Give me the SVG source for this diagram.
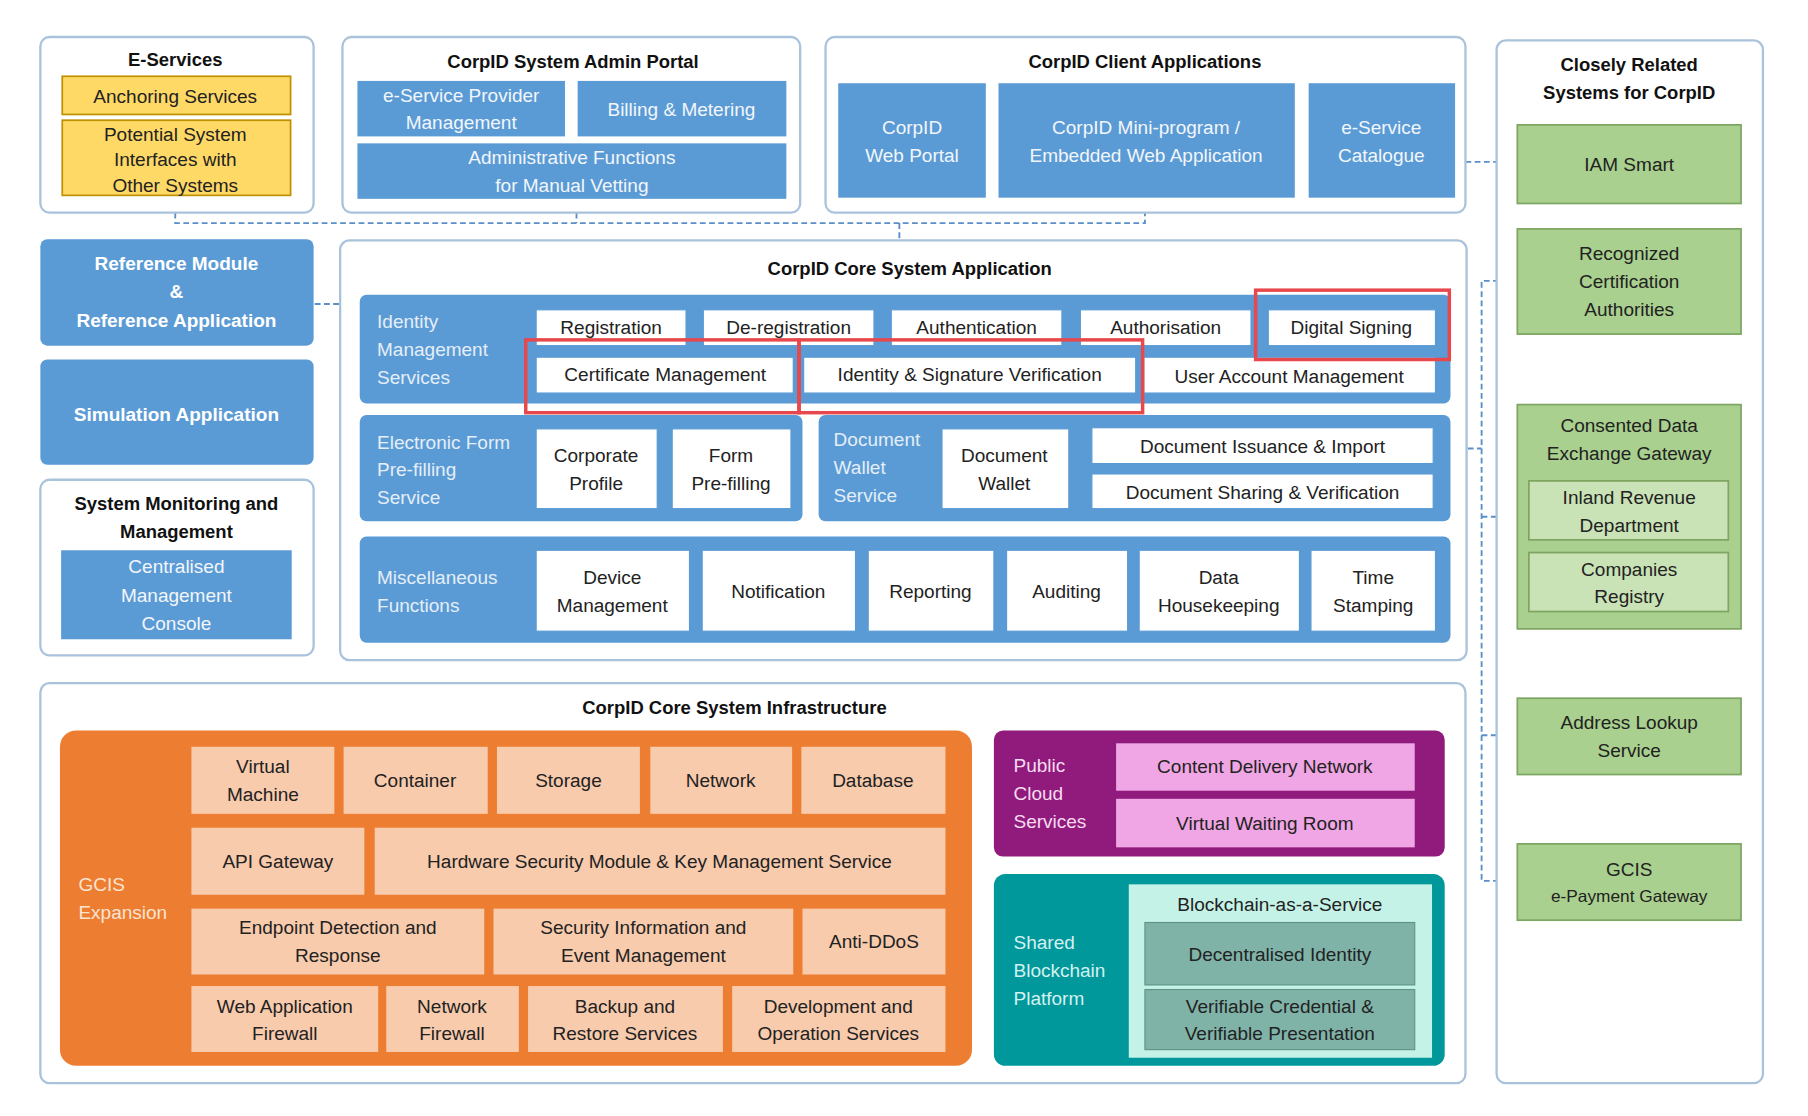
<svg xmlns="http://www.w3.org/2000/svg" width="1808" height="1116" viewBox="0 0 1808 1116">
<style>
text{font-family:"Liberation Sans",Arial,sans-serif;font-size:16.5px;text-anchor:middle;fill:#222}
.t{font-weight:bold;font-size:16px;fill:#111}
.lw{fill:#e4eef8;text-anchor:start}
.w{fill:#f2f6fb}
.wb{fill:#fff;font-weight:bold}
.cont{fill:#fff;stroke:#a9c3dc;stroke-width:2}
.blue{fill:#5b9bd5}
.bandb{fill:#5b9bd5}
.wbox{fill:#fff;stroke:#5b9bd5}
.yel{fill:#ffd966;stroke:#bf9000;stroke-width:1.5}
.grn{fill:#a9d08e;stroke:#7ea561;stroke-width:1.5}
.grn2{fill:#c9e3b6;stroke:#7ea561;stroke-width:1.5}
.or{fill:#f8cbad}
.pk{fill:#f0a6e4}
.red{fill:none;stroke:#e8474c;stroke-width:3}
.dash{fill:none;stroke:#5b8fc9;stroke-width:1.6;stroke-dasharray:5,3}
</style>
<rect width="1808" height="1116" fill="#fff"/>
<g transform="scale(1.153,1.156)">
<g id="connectors">
<path class="dash" d="M152,184 V193 H993 V184 M500,184 V193 M780,193 V208"/>
<path class="dash" d="M273,263 H295"/>
<path class="dash" d="M1271,140 H1316"/>
<path class="dash" d="M1316,243 H1285 V762 H1316 M1285,447 H1316 M1285,636 H1316 M1273,388 H1285"/>
</g>
<g id="eservices">
<rect class="cont" x="35" y="32" width="237" height="152" rx="8"/>
<text class="t" x="152" y="57">E-Services</text>
<rect class="yel" x="54" y="66" width="198" height="33"/>
<text x="152" y="89">Anchoring Services</text>
<rect class="yel" x="54" y="104" width="198" height="65"/>
<text x="152" y="122">Potential System</text><text x="152" y="144">Interfaces with</text><text x="152" y="166">Other Systems</text>
</g>
<g id="adminportal">
<rect class="cont" x="297" y="32" width="397" height="152" rx="8"/>
<text class="t" x="497" y="59">CorpID System Admin Portal</text>
<rect class="blue" x="310" y="70" width="180" height="48"/>
<text class="w" x="400" y="88">e-Service Provider</text><text class="w" x="400" y="112">Management</text>
<rect class="blue" x="501" y="70" width="181" height="48"/>
<text class="w" x="591" y="100">Billing &amp; Metering</text>
<rect class="blue" x="310" y="124" width="372" height="48"/>
<text class="w" x="496" y="142">Administrative Functions</text><text class="w" x="496" y="166">for Manual Vetting</text>
</g>
<g id="clientapps">
<rect class="cont" x="716" y="32" width="555" height="152" rx="8"/>
<text class="t" x="993" y="59">CorpID Client Applications</text>
<rect class="blue" x="727" y="72" width="128" height="99"/>
<text class="w" x="791" y="116">CorpID</text><text class="w" x="791" y="140">Web Portal</text>
<rect class="blue" x="866" y="72" width="257" height="99"/>
<text class="w" x="994" y="116">CorpID Mini-program /</text><text class="w" x="994" y="140">Embedded Web Application</text>
<rect class="blue" x="1135" y="72" width="127" height="99"/>
<text class="w" x="1198" y="116">e-Service</text><text class="w" x="1198" y="140">Catalogue</text>
</g>
<g id="related">
<rect class="cont" x="1298" y="35" width="231" height="902" rx="8"/>
<text class="t" x="1413" y="61">Closely Related</text><text class="t" x="1413" y="86">Systems for CorpID</text>
<rect class="grn" x="1316" y="108" width="194" height="68"/>
<text x="1413" y="148">IAM Smart</text>
<rect class="grn" x="1316" y="198" width="194" height="91"/>
<text x="1413" y="225">Recognized</text><text x="1413" y="249">Certification</text><text x="1413" y="273">Authorities</text>
<rect class="grn" x="1316" y="350" width="194" height="194"/>
<text x="1413" y="374">Consented Data</text><text x="1413" y="398">Exchange Gateway</text>
<rect class="grn2" x="1326" y="416" width="173" height="51"/>
<text x="1413" y="436">Inland Revenue</text><text x="1413" y="460">Department</text>
<rect class="grn2" x="1326" y="478" width="173" height="51"/>
<text x="1413" y="498">Companies</text><text x="1413" y="522">Registry</text>
<rect class="grn" x="1316" y="604" width="194" height="66"/>
<text x="1413" y="631">Address Lookup</text><text x="1413" y="655">Service</text>
<rect class="grn" x="1316" y="730" width="194" height="66"/>
<text x="1413" y="758">GCIS</text><text x="1413" y="780" style="font-size:15px">e-Payment Gateway</text>
</g>
<g id="leftcol">
<rect class="blue" x="35" y="207" width="237" height="92" rx="6"/>
<text class="wb" x="153" y="234">Reference Module</text><text class="wb" x="153" y="258">&amp;</text><text class="wb" x="153" y="283">Reference Application</text>
<rect class="blue" x="35" y="311" width="237" height="91" rx="6"/>
<text class="wb" x="153" y="364">Simulation Application</text>
<rect class="cont" x="35" y="415" width="237" height="152" rx="8"/>
<text class="t" x="153" y="441">System Monitoring and</text><text class="t" x="153" y="465">Management</text>
<rect class="blue" x="53" y="476" width="200" height="77"/>
<text class="w" x="153" y="496">Centralised</text><text class="w" x="153" y="521">Management</text><text class="w" x="153" y="545">Console</text>
</g>
<g id="coreapp">
<rect class="cont" x="295" y="208" width="977" height="363" rx="8"/>
<text class="t" x="789" y="238">CorpID Core System Application</text>
<rect class="bandb" x="312" y="255" width="946" height="94" rx="6"/>
<text class="lw" x="327" y="284">Identity</text><text class="lw" x="327" y="308">Management</text><text class="lw" x="327" y="332">Services</text>
<rect class="wbox" x="465" y="268" width="130" height="31"/><text x="530" y="289">Registration</text>
<rect class="wbox" x="610" y="268" width="148" height="31"/><text x="684" y="289">De-registration</text>
<rect class="wbox" x="773" y="268" width="148" height="31"/><text x="847" y="289">Authentication</text>
<rect class="wbox" x="937" y="268" width="148" height="31"/><text x="1011" y="289">Authorisation</text>
<rect class="wbox" x="1100" y="268" width="145" height="31"/><text x="1172" y="289">Digital Signing</text>
<rect class="wbox" x="465" y="309" width="223" height="31"/><text x="577" y="330">Certificate Management</text>
<rect class="wbox" x="697" y="309" width="288" height="31"/><text x="841" y="330">Identity &amp; Signature Verification</text>
<rect class="wbox" x="992" y="309" width="253" height="31"/><text x="1118" y="331">User Account Management</text>
<rect class="red" x="1089" y="251" width="168" height="60"/>
<rect class="red" x="456" y="294" width="237" height="63"/>
<rect class="red" x="693" y="294" width="298" height="63"/>
<rect class="bandb" x="312" y="359" width="384" height="92" rx="6"/>
<text class="lw" x="327" y="388">Electronic Form</text><text class="lw" x="327" y="412">Pre-filling</text><text class="lw" x="327" y="436">Service</text>
<rect class="wbox" x="465" y="371" width="105" height="69"/><text x="517" y="400">Corporate</text><text x="517" y="424">Profile</text>
<rect class="wbox" x="583" y="371" width="103" height="69"/><text x="634" y="400">Form</text><text x="634" y="424">Pre-filling</text>
<rect class="bandb" x="710" y="359" width="548" height="92" rx="6"/>
<text class="lw" x="723" y="386">Document</text><text class="lw" x="723" y="410">Wallet</text><text class="lw" x="723" y="434">Service</text>
<rect class="wbox" x="817" y="371" width="110" height="69"/><text x="871" y="400">Document</text><text x="871" y="424">Wallet</text>
<rect class="wbox" x="947" y="370" width="296" height="31"/><text x="1095" y="392">Document Issuance &amp; Import</text>
<rect class="wbox" x="947" y="410" width="296" height="30"/><text x="1095" y="432">Document Sharing &amp; Verification</text>
<rect class="bandb" x="312" y="464" width="946" height="92" rx="6"/>
<text class="lw" x="327" y="505">Miscellaneous</text><text class="lw" x="327" y="529">Functions</text>
<rect class="wbox" x="465" y="476" width="133" height="70"/><text x="531" y="505">Device</text><text x="531" y="529">Management</text>
<rect class="wbox" x="609" y="476" width="133" height="70"/><text x="675" y="517">Notification</text>
<rect class="wbox" x="753" y="476" width="109" height="70"/><text x="807" y="517">Reporting</text>
<rect class="wbox" x="873" y="476" width="105" height="70"/><text x="925" y="517">Auditing</text>
<rect class="wbox" x="988" y="476" width="139" height="70"/><text x="1057" y="505">Data</text><text x="1057" y="529">Housekeeping</text>
<rect class="wbox" x="1137" y="476" width="108" height="70"/><text x="1191" y="505">Time</text><text x="1191" y="529">Stamping</text>
</g>
<g id="infra">
<rect class="cont" x="35" y="591" width="1236" height="346" rx="8"/>
<text class="t" x="637" y="618">CorpID Core System Infrastructure</text>
<rect x="52" y="632" width="791" height="290" rx="14" fill="#ed7d31"/>
<text class="lw" x="68" y="771" style="fill:#fde3d2">GCIS</text><text class="lw" x="68" y="795" style="fill:#fde3d2">Expansion</text>
<rect class="or" x="166" y="646" width="124" height="58"/><text x="228" y="669">Virtual</text><text x="228" y="693">Machine</text>
<rect class="or" x="298" y="646" width="125" height="58"/><text x="360" y="681">Container</text>
<rect class="or" x="431" y="646" width="124" height="58"/><text x="493" y="681">Storage</text>
<rect class="or" x="564" y="646" width="123" height="58"/><text x="625" y="681">Network</text>
<rect class="or" x="695" y="646" width="125" height="58"/><text x="757" y="681">Database</text>
<rect class="or" x="166" y="716" width="150" height="58"/><text x="241" y="751">API Gateway</text>
<rect class="or" x="325" y="716" width="495" height="58"/><text x="572" y="751">Hardware Security Module &amp; Key Management Service</text>
<rect class="or" x="166" y="786" width="254" height="57"/><text x="293" y="808">Endpoint Detection and</text><text x="293" y="832">Response</text>
<rect class="or" x="428" y="786" width="260" height="57"/><text x="558" y="808">Security Information and</text><text x="558" y="832">Event Management</text>
<rect class="or" x="696" y="786" width="124" height="57"/><text x="758" y="820">Anti-DDoS</text>
<rect class="or" x="166" y="853" width="162" height="57"/><text x="247" y="876">Web Application</text><text x="247" y="900">Firewall</text>
<rect class="or" x="335" y="853" width="115" height="57"/><text x="392" y="876">Network</text><text x="392" y="900">Firewall</text>
<rect class="or" x="458" y="853" width="169" height="57"/><text x="542" y="876">Backup and</text><text x="542" y="900">Restore Services</text>
<rect class="or" x="635" y="853" width="185" height="57"/><text x="727" y="876">Development and</text><text x="727" y="900">Operation Services</text>
<rect x="862" y="632" width="391" height="109" rx="8" fill="#911a7d"/>
<text class="lw" x="879" y="668" style="fill:#f6dcef">Public</text><text class="lw" x="879" y="692" style="fill:#f6dcef">Cloud</text><text class="lw" x="879" y="716" style="fill:#f6dcef">Services</text>
<rect class="pk" x="968" y="643" width="259" height="41"/><text x="1097" y="669">Content Delivery Network</text>
<rect class="pk" x="968" y="691" width="259" height="42"/><text x="1097" y="718">Virtual Waiting Room</text>
<rect x="862" y="756" width="391" height="166" rx="10" fill="#00989a"/>
<text class="lw" x="879" y="821" style="fill:#d4f1f1">Shared</text><text class="lw" x="879" y="845" style="fill:#d4f1f1">Blockchain</text><text class="lw" x="879" y="869" style="fill:#d4f1f1">Platform</text>
<rect x="979" y="765" width="263" height="150" fill="#c5f2e6"/>
<text x="1110" y="788">Blockchain-as-a-Service</text>
<rect x="993" y="798" width="234" height="54" fill="#7fb3a8" stroke="#5f9487"/><text x="1110" y="831">Decentralised Identity</text>
<rect x="993" y="856" width="234" height="52" fill="#7fb3a8" stroke="#5f9487"/><text x="1110" y="876">Verifiable Credential &amp;</text><text x="1110" y="900">Verifiable Presentation</text>
</g>
</g>
</svg>
